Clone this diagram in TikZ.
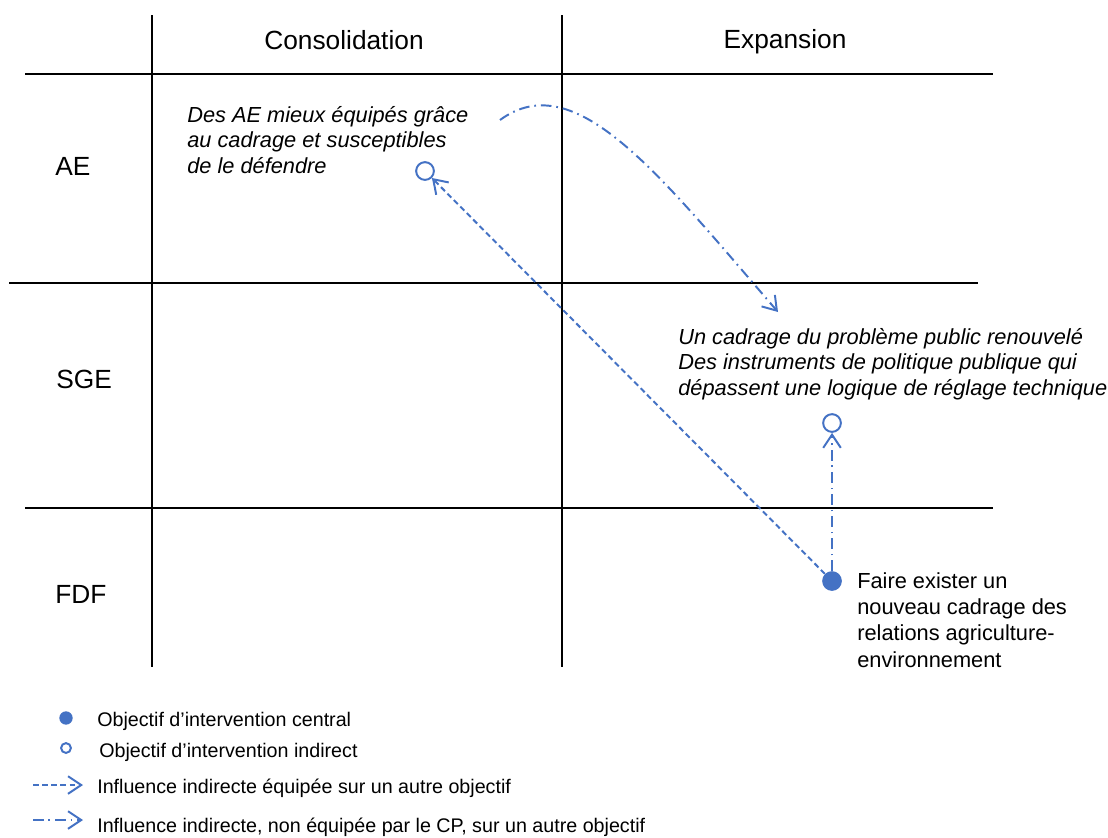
\documentclass[tikz,border=0pt]{standalone}
\usepackage{fontspec}
\setmainfont{Liberation Sans}
\usetikzlibrary{arrows.meta, positioning}
\definecolor{objblue}{HTML}{4472C4}

\begin{document}
\begin{tikzpicture}[
x=0.025cm, y=-0.025cm,
node distance=14pt,
grid/.style={
draw=black,
line width=1.4pt
},
head/.style={
font=\fontsize{18.7}{22}\selectfont,
inner sep=0pt
},
goal/.style={
font=\fontsize{15.5}{18.1}\selectfont\itshape,
align=left,
inner sep=0pt
},
legend/.style={
font=\fontsize{14}{16}\selectfont,
inner sep=0pt
},
central/.style={
circle,
fill=objblue,
minimum size=14pt,
inner sep=0pt
},
indirect/.style={
circle,
draw=objblue,
line width=1.4pt,
minimum size=12.6pt,
inner sep=0pt
},
equipped/.style={
-{Straight Barb[length=3.3mm,width=4.4mm]},
draw=objblue,
line width=1.4pt,
dash pattern=on 4pt off 2.5pt
},
unequipped/.style={
-{Straight Barb[length=3.3mm,width=4.4mm]},
draw=objblue,
line width=1.4pt,
dash pattern=on 7.5pt off 3.5pt on 1.2pt off 3.5pt
}
]

\useasboundingbox (0,0) rectangle (1108,837);

\draw [grid] (152,15) -- (152,667);
\draw [grid] (562,15) -- (562,667);
\draw [grid] (25,74) -- (993,74);
\draw [grid] (9,283) -- (978,283);
\draw [grid] (25,508) -- (993,508);

\node (cons) [head, anchor=base] at (344,49) {Consolidation};
\node (expa) [head, anchor=base] at (785,48) {Expansion};

\node (rowae) [head, anchor=base west] at (55,175) {AE};
\node (rowsge) [head, anchor=base west] at (56,388) {SGE};
\node (rowfdf) [head, anchor=base west] at (55,603) {FDF};

\node (ae) [indirect] at (425,171) {};
\node (sge) [indirect] at (832,423) {};
\node (fdf) [central] at (832,581) {};

\node (aetext) [goal, anchor=base west] at (187,173)
{Des AE mieux équipés grâce\\au cadrage et susceptibles\\de le défendre};

\node (sgetext) [goal, anchor=base west] at (678,395)
{Un cadrage du problème public renouvelé\\Des instruments de politique publique qui\\dépassent une logique de réglage technique};

\node (fdftext) [goal, font=\fontsize{15.5}{18.7}\selectfont, anchor=base west] at (857,667)
{Faire exister un\\nouveau cadrage des\\relations agriculture-\\environnement};

\coordinate (bendstart) at (500,120);
\coordinate (bendend) at (778,312);

\draw [equipped] (fdf) -- (ae);
\draw [unequipped] (fdf) -- (sge);
\draw [unequipped] (bendstart) .. controls (575,65) and (658,173) .. (bendend);

\node (lgc) [central, minimum size=9.5pt] at (66,718) {};
\node (lgi) [indirect, minimum size=7pt, line width=1.4pt] at (66,748) {};
\coordinate (lgea) at (33,785);
\coordinate (lgeb) at (83,785);
\coordinate (lgua) at (33,820);
\coordinate (lgub) at (83,820);

\draw [equipped] (lgea) -- (lgeb);
\draw [unequipped] (lgua) -- (lgub);

\node (lgctext) [legend, anchor=base west] at (97,726) {Objectif d’intervention central};
\node (lgitext) [legend, anchor=base west] at (99,757) {Objectif d’intervention indirect};
\node (lgetext) [legend, anchor=base west] at (97,793) {Influence indirecte équipée sur un autre objectif};
\node (lgutext) [legend, anchor=base west] at (97,832) {Influence indirecte, non équipée par le CP, sur un autre objectif};

\end{tikzpicture}
\end{document}
